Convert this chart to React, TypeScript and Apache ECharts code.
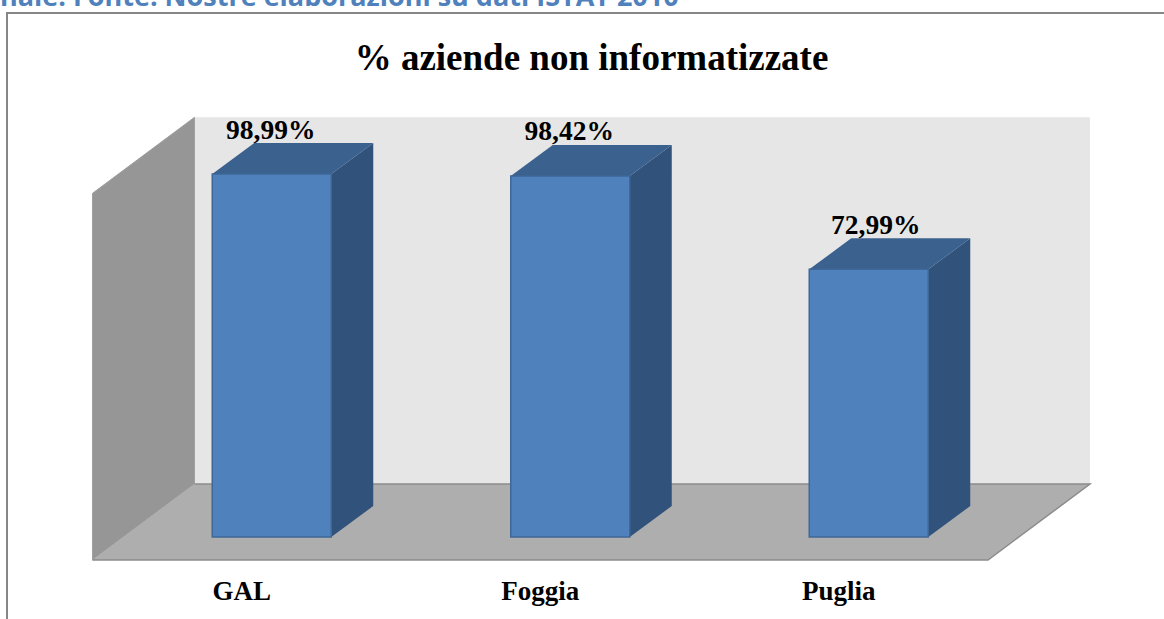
import React, { useEffect, useRef } from "react";
import * as echarts from "echarts";

const categories = ["GAL", "Foggia", "Puglia"];
const values = [98.99, 98.42, 72.99];
const valueLabels = ["98,99%", "98,42%", "72,99%"];
const titleText = "% aziende non informatizzate";
const captionText = "nale. Fonte: Nostre elaborazioni su dati ISTAT 2010";

const serif = "'Liberation Serif', serif";

function renderWalls(params: any, api: any) {
  const c = params.coordSys;
  const L = c.x, R = c.x + c.width, T = c.y, B = c.y + c.height;
  const dx = 102, dy = -76;
  const edge = "#8c8c8c";
  return {
    type: "group",
    children: [
      { type: "polygon", shape: { points: [[L + dx, T + dy], [R + dx, T + dy], [R + dx, B + dy], [L + dx, B + dy]] }, style: { fill: "#e6e6e6" } },
      { type: "polygon", shape: { points: [[L, T], [L + dx, T + dy], [L + dx, B + dy], [L, B]] }, style: { fill: "#969696", stroke: "#a0a0a0", lineWidth: 1 } },
      { type: "polygon", shape: { points: [[L, B], [L + dx, B + dy], [R + dx, B + dy], [R, B]] }, style: { fill: "#aeaeae" } },
      { type: "polyline", shape: { points: [[L + dx, B + dy], [R + dx, B + dy], [R, B], [L, B]] }, style: { stroke: edge, lineWidth: 1.5, fill: "none" } },
    ],
  };
}

function renderBar(params: any, api: any) {
  const i = params.dataIndex;
  const centre = api.coord([api.value(0), 0]);
  const top = api.coord([api.value(0), api.value(1)]);
  const w = 119;
  const ox = 30, oy = -23;
  const ddx = 42, ddy = -31;
  const x0 = centre[0] + ox - w / 2;
  const x1 = x0 + w;
  const yB = centre[1] + oy;
  const yT = top[1] + oy;
  const stroke = "#3f6797";
  return {
    type: "group",
    children: [
      { type: "polygon", shape: { points: [[x1, yT], [x1 + ddx, yT + ddy], [x1 + ddx, yB + ddy], [x1, yB]] }, style: { fill: "#31527b" } },
      { type: "polygon", shape: { points: [[x0, yT], [x0 + ddx, yT + ddy], [x1 + ddx, yT + ddy], [x1, yT]] }, style: { fill: "#3b618f" } },
      { type: "rect", shape: { x: x0, y: yT, width: w, height: yB - yT }, style: { fill: "#4f81bd", stroke, lineWidth: 1.5 } },
      {
        type: "text",
        x: x0 + w / 2 + [-1, -1, 7][i],
        y: yT + ddy - 14 + [0, -1, 0][i],
        style: {
          text: valueLabels[i],
          fontFamily: serif,
          fontWeight: "bold",
          fontSize: 27.5,
          fill: "#000",
          align: "center",
          verticalAlign: "middle",
        },
      },
    ],
  };
}

export default function App() {
  const ref = useRef<HTMLDivElement>(null);
  useEffect(() => {
    const chart = echarts.init(ref.current!, undefined, { renderer: "svg" });
    chart.setOption({
      animation: false,
      backgroundColor: "#fff",
      title: {
        text: titleText,
        left: 586.5,
        top: 34,
        textAlign: "center",
        textStyle: { fontFamily: serif, fontWeight: "bold", fontSize: 37, color: "#000" },
      },
      grid: { left: 92.5, top: 193.3, width: 895.5, height: 366.7 },
      xAxis: {
        type: "category",
        data: categories,
        axisLine: { show: false },
        axisTick: { show: false },
        axisLabel: {
          fontFamily: serif,
          fontWeight: "bold",
          fontSize: 27,
          color: "#000",
          margin: 17,
        },
      },
      yAxis: { type: "value", min: 0, max: 100, show: false, splitLine: { show: false } },
      graphic: [
        {
          type: "polyline",
          shape: { points: [[7, 625], [7, 13], [1170, 13]] },
          style: { stroke: "#868686", lineWidth: 2, fill: "none" },
          z: 10,
        },
        {
          type: "text",
          x: 0,
          y: -18,
          style: { text: captionText, fontFamily: "'Open Sans', sans-serif", fontWeight: "bold", fontSize: 27, fill: "#4f81bd" },
        },
      ],
      series: [
        { type: "custom", renderItem: renderWalls, data: [[0, 0]], silent: true, z: 1, clip: false },
        {
          type: "custom",
          renderItem: renderBar,
          data: values.map((v, i) => [i, v]),
          encode: { x: 0, y: 1 },
          z: 2,
          clip: false,
        },
      ],
    });
    return () => chart.dispose();
  }, []);
  return <div ref={ref} style={{ position: "absolute", left: 0, top: 0, width: 1164, height: 619 }} />;
}
